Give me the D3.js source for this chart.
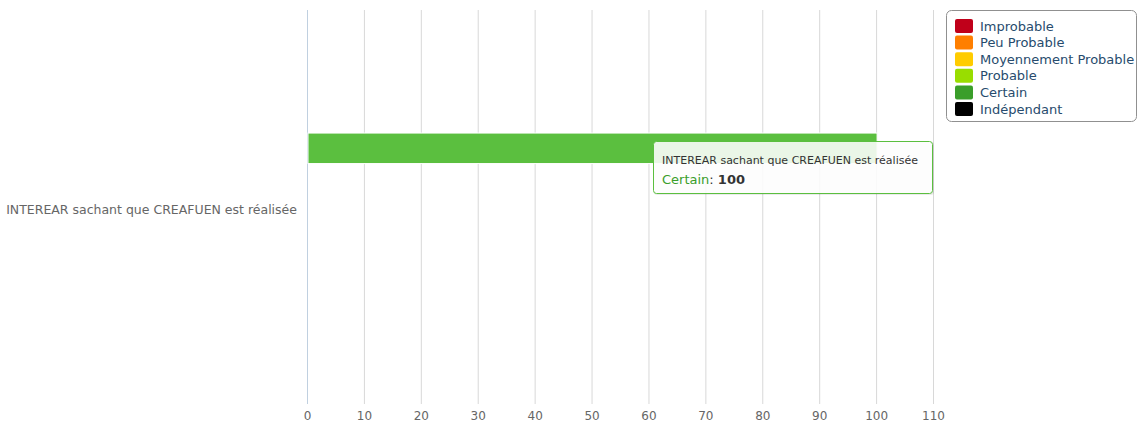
<!DOCTYPE html>
<html>
<head>
<meta charset="utf-8">
<script src="https://cdn.jsdelivr.net/npm/d3@7"></script>
<style>
  body { margin: 0; background: #fff; }
  text { font-family: "Lucida Grande", "DejaVu Sans", "Open Sans", sans-serif; }
</style>
</head>
<body>
<div id="chart"></div>
<script>
// Data
const categories = ['INTEREAR sachant que CREAFUEN est réalisée'];
const seriesNames = ['Improbable', 'Peu Probable', 'Moyennement Probable', 'Probable', 'Certain', 'Indépendant'];
const seriesColors = ['#C0001A', '#FF7F00', '#FFCC00', '#99DD00', '#3A9E2A', '#000000'];
const seriesValues = [null, null, null, null, 100, null];
const xTicks = [0, 10, 20, 30, 40, 50, 60, 70, 80, 90, 100, 110];

const W = 1138, H = 426;
const plot = { left: 307, right: 933, top: 10, bottom: 404 };

const svg = d3.select('#chart')
  .append('svg')
  .attr('width', W)
  .attr('height', H);

const x = d3.scaleLinear()
  .domain([0, 110])
  .range([plot.left, plot.right]);

const y = d3.scaleBand()
  .domain(categories)
  .range([plot.top, plot.bottom])
  .paddingInner(0)
  .paddingOuter(0);

// series within the category, drawn bottom-up like highcharts bars
const ys = d3.scaleBand()
  .domain(seriesNames.slice().reverse())
  .range([0, y.bandwidth() * 0.6])
  .padding(0.2);
const groupOffset = y.bandwidth() * 0.2 - 1.5;

// grid lines
svg.append('g')
  .selectAll('line')
  .data(xTicks)
  .enter()
  .append('line')
  .attr('x1', d => x(d) + 0.5)
  .attr('x2', d => x(d) + 0.5)
  .attr('y1', plot.top)
  .attr('y2', plot.bottom)
  .attr('stroke', d => d === 0 ? '#C0D0E0' : '#D8D8D8')
  .attr('stroke-width', 1);

// x axis labels
const xAxis = svg.append('g')
  .attr('transform', `translate(0,${plot.bottom})`)
  .call(d3.axisBottom(x).tickValues(xTicks).tickSize(0).tickPadding(7));
xAxis.select('.domain').remove();
xAxis.selectAll('text')
  .attr('fill', '#666')
  .style('font-size', '12px');

// y axis label
svg.append('g')
  .selectAll('text')
  .data(categories)
  .enter()
  .append('text')
  .attr('x', plot.left - 10)
  .attr('y', d => y(d) + y.bandwidth() / 2 + 3)
  .attr('dy', '0.35em')
  .attr('text-anchor', 'end')
  .attr('fill', '#666')
  .style('font-size', '12.5px')
  .text(d => d);

// bars
const barData = seriesNames.map((s, i) => ({ name: s, value: seriesValues[i], color: seriesColors[i] }))
  .filter(d => d.value !== null);

svg.append('g')
  .selectAll('rect')
  .data(barData)
  .enter()
  .append('rect')
  .attr('x', x(0) + 1)
  .attr('y', d => y(categories[0]) + groupOffset + ys(d.name))
  .attr('width', d => x(d.value) - x(0))
  .attr('height', ys.bandwidth())
  .attr('fill', d => d.name === 'Certain' ? '#5BBF3F' : d.color)
  .attr('stroke', '#fff')
  .attr('stroke-width', 1);

// legend
const legend = svg.append('g').attr('transform', 'translate(946,10)');
legend.append('rect')
  .attr('x', 0.5).attr('y', 0.5)
  .attr('width', 190).attr('height', 111)
  .attr('rx', 5)
  .attr('fill', '#fff')
  .attr('stroke', '#909090');

const items = legend.selectAll('.item')
  .data(seriesNames)
  .enter()
  .append('g')
  .attr('class', 'item')
  .attr('transform', (d, i) => `translate(9,${9 + i * 16.6})`);
items.append('rect')
  .attr('width', 18).attr('height', 14)
  .attr('rx', 2)
  .attr('fill', (d, i) => seriesColors[i]);
items.append('text')
  .attr('x', 25)
  .attr('y', 7)
  .attr('dy', '0.35em')
  .attr('fill', '#274B6D')
  .style('font-size', '13px')
  .text(d => d);

// tooltip
const tip = svg.append('g').attr('transform', 'translate(653,141)');
tip.append('rect')
  .attr('x', 1).attr('y', 1)
  .attr('width', 280).attr('height', 53)
  .attr('rx', 3)
  .attr('fill', 'rgba(0,0,0,0.08)');
tip.append('rect')
  .attr('x', 0.5).attr('y', 0.5)
  .attr('width', 279).attr('height', 52)
  .attr('rx', 3)
  .attr('fill', 'rgba(255,255,255,0.88)')
  .attr('stroke', '#5BBF3F');
tip.append('text')
  .attr('x', 9).attr('y', 23)
  .attr('fill', '#333')
  .style('font-size', '11px')
  .text(categories[0]);
const t2 = tip.append('text')
  .attr('x', 9).attr('y', 43)
  .style('font-size', '13px');
t2.append('tspan').attr('fill', '#3A9E2A').text('Certain');
t2.append('tspan').attr('fill', '#333').text(': ');
t2.append('tspan').attr('fill', '#333').attr('font-weight', 'bold').text(seriesValues[4]);
</script>
</body>
</html>
